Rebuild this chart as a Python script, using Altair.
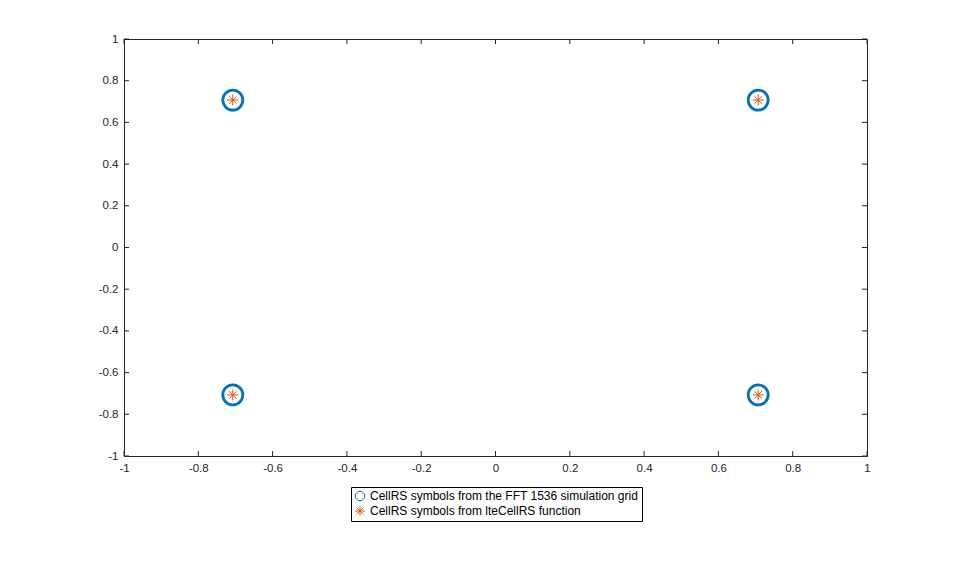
import altair as alt
import pandas as pd

# Data
series_names = ["CellRS symbols from the FFT 1536 simulation grid",
                "CellRS symbols from lteCellRS function"]
grid_re = [-0.7071, -0.7071, 0.7071, 0.7071]
grid_im = [0.7071, -0.7071, 0.7071, -0.7071]
ref_re = [-0.7071, -0.7071, 0.7071, 0.7071]
ref_im = [0.7071, -0.7071, 0.7071, -0.7071]
x_ticks = [-1, -0.8, -0.6, -0.4, -0.2, 0, 0.2, 0.4, 0.6, 0.8, 1]
y_ticks = [-1, -0.8, -0.6, -0.4, -0.2, 0, 0.2, 0.4, 0.6, 0.8, 1]

W, H = 743, 417
FONT = "Liberation Sans"
BLUE = "#0072BD"
ORANGE = "#D95319"
ASTERISK = "M-1,0L1,0M0,-1L0,1M-0.7,-0.7L0.7,0.7M-0.7,0.7L0.7,-0.7"

df = pd.DataFrame({
    "re": grid_re + ref_re,
    "im": grid_im + ref_im,
    "series": [series_names[0]] * len(grid_re) + [series_names[1]] * len(ref_re),
})
ticks_x = pd.DataFrame({"t": x_ticks})
ticks_y = pd.DataFrame({"t": y_ticks})

xscale = alt.Scale(domain=[-1, 1], nice=False, zero=False)
yscale = alt.Scale(domain=[-1, 1], nice=False, zero=False)

color = alt.Color("series:N", scale=alt.Scale(domain=series_names, range=[BLUE, ORANGE]),
                  legend=alt.Legend(title=None, orient="none", legendX=227, legendY=448,
                                    strokeColor="black", fillColor="white", padding=3,
                                    labelFont=FONT, labelFontSize=12, labelColor="black",
                                    symbolStrokeWidth=1, symbolSize=90, rowPadding=1,
                                    labelLimit=400, symbolOffset=0))
shape = alt.Shape("series:N", scale=alt.Scale(domain=series_names, range=["circle", ASTERISK]))

xax = alt.Axis(values=x_ticks, labelExpr="toString(datum.value)", ticks=False, grid=False,
               labelFont=FONT, labelFontSize=11.5, labelColor="#262626", labelPadding=6,
               domainColor="#262626", title=None, labelFlush=False)
yax = alt.Axis(values=y_ticks, labelExpr="toString(datum.value)", ticks=False, grid=False,
               labelFont=FONT, labelFontSize=11.5, labelColor="#262626", labelPadding=6,
               domainColor="#262626", title=None)

base = alt.Chart(df)
circles = base.transform_filter(alt.datum.series == series_names[0]).mark_point(
    filled=False, strokeWidth=2.8, size=400, opacity=1
).encode(
    x=alt.X("re:Q", scale=xscale, axis=xax, title=None),
    y=alt.Y("im:Q", scale=yscale, axis=yax, title=None),
    color=color, shape=shape,
)
stars = base.transform_filter(alt.datum.series == series_names[1]).mark_point(
    filled=False, strokeWidth=1, size=120, opacity=1
).encode(
    x=alt.X("re:Q", scale=xscale, axis=xax, title=None),
    y=alt.Y("im:Q", scale=yscale, axis=yax, title=None),
    color=color, shape=shape,
)

tc = "#262626"
tb = alt.Chart(ticks_x).mark_rule(color=tc).encode(
    x=alt.X("t:Q", scale=xscale, axis=xax, title=None), y=alt.value(H), y2=alt.value(H - 5))
tt = alt.Chart(ticks_x).mark_rule(color=tc).encode(
    x=alt.X("t:Q", scale=xscale, axis=xax, title=None), y=alt.value(0), y2=alt.value(5))
tl = alt.Chart(ticks_y).mark_rule(color=tc).encode(
    y=alt.Y("t:Q", scale=yscale, axis=yax, title=None), x=alt.value(0), x2=alt.value(5))
tr = alt.Chart(ticks_y).mark_rule(color=tc).encode(
    y=alt.Y("t:Q", scale=yscale, axis=yax, title=None), x=alt.value(W), x2=alt.value(W - 5))

chart = alt.layer(circles, stars, tb, tt, tl, tr).properties(
    width=W, height=H,
    autosize=alt.AutoSizeParams(type="none"),
    padding={"left": 116, "top": 31, "right": 80, "bottom": 100},
).configure_view(stroke="#262626", strokeWidth=1)

chart.save("out.html", embed_options={"renderer": "svg", "actions": False})
